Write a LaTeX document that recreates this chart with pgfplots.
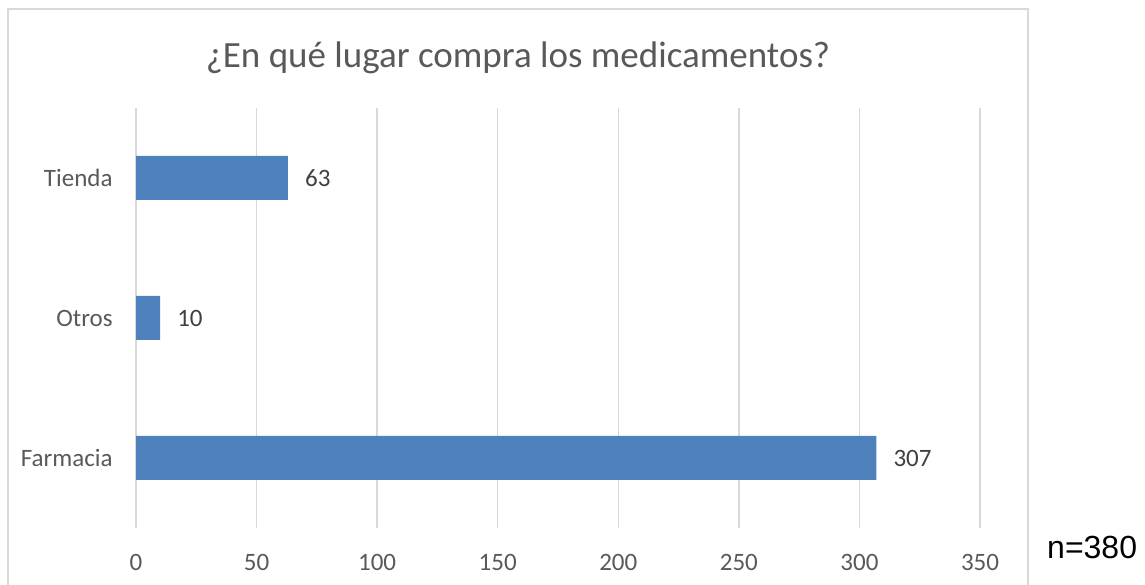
\documentclass[border=0pt]{standalone}
\usepackage{pgfplots}
\pgfplotsset{compat=1.18}
\usepackage{fontspec}
\setmainfont{Carlito}
\newfontfamily\arialfont{Liberation Sans}
\definecolor{barblue}{HTML}{4F81BD}
\definecolor{gridgray}{HTML}{D9D9D9}
\definecolor{txtgray}{HTML}{595959}
\definecolor{lblgray}{HTML}{404040}
\begin{document}
\begin{tikzpicture}
\path[use as bounding box] (0,0) rectangle (1145bp,585bp);
% chart frame (bottom edge falls outside the picture)
\draw[gridgray, line width=1.3bp] (8bp,0) -- (8bp,576bp) -- (1028bp,576bp) -- (1028bp,0);
\begin{axis}[
    at={(136bp,57bp)}, anchor=south west,
    scale only axis,
    width=844bp, height=420bp,
    xbar,
    bar width=44bp,
    xmin=0, xmax=350,
    ymin=-0.5, ymax=2.5,
    xtick={0,50,...,350},
    ytick={0,1,2},
    yticklabels={Farmacia,Otros,Tienda},
    /pgf/number format/assume math mode=true,
    axis line style={draw=none},
    tick style={draw=none},
    xmajorgrids,
    grid style={gridgray, line width=1.5bp},
    tick label style={font=\fontsize{25bp}{28bp}\selectfont, text=txtgray},
    xticklabel style={anchor=base, yshift=-42bp, inner sep=0pt},
    yticklabel style={anchor=east, xshift=-19bp, inner sep=0pt},
    nodes near coords,
    nodes near coords style={anchor=west, inner sep=0pt, xshift=17bp,
        font=\fontsize{25bp}{28bp}\selectfont, text=lblgray},
]
\addplot[fill=barblue, draw=none] coordinates {(307,0) (10,1) (63,2)};
\end{axis}
\node[anchor=base, text=txtgray, inner sep=0pt, font=\fontsize{37bp}{40bp}\selectfont]
    at (518bp,517bp) {¿En qué lugar compra los medicamentos?};
\node[anchor=base west, inner sep=0pt, font=\arialfont\fontsize{32bp}{36bp}\selectfont]
    at (1047bp,27bp) {n=380};
\end{tikzpicture}
\end{document}
